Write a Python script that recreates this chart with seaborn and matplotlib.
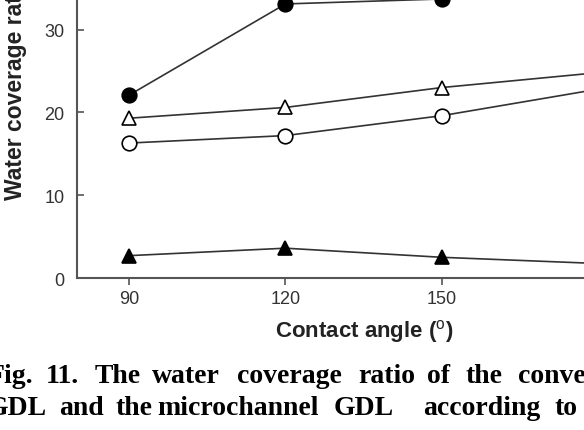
import matplotlib
matplotlib.use('Agg')
import matplotlib.pyplot as plt
import seaborn as sns
import pandas as pd

# Data
CONTACT_ANGLES = [90, 120, 150, 180]
FILLED_CIRCLE = [22.1, 33.1, 33.7, 35.0]
OPEN_TRIANGLE = [19.3, 20.6, 23.0, 24.8]
OPEN_CIRCLE = [16.3, 17.2, 19.6, 22.8]
FILLED_TRIANGLE = [2.7, 3.6, 2.5, 1.75]

X_TICKS = [90, 120, 150, 180]
Y_TICKS = [0, 10, 20, 30, 40]

# caption words with (x pixel, anchor) - justified text in the source
CAPTION_LINE1 = [('Fig.', 33, 'right'), ('11.', 62.5, 'center'), ('The', 117.5, 'center'),
                 ('water', 186, 'center'), ('coverage', 289.5, 'center'),
                 ('ratio', 386.5, 'center'), ('of', 438.5, 'center'), ('the', 484, 'center'),
                 ('conventional', 518, 'left')]
CAPTION_LINE2 = [('GDL', 47, 'right'), ('and', 81.5, 'center'), ('the', 134, 'center'),
                 ('microchannel', 238, 'center'), ('GDL', 364, 'center'),
                 ('according', 482, 'center'), ('to', 566, 'center')]

W, H = 584, 431


def px(x, y):
    """Pixel (from top-left) to figure fraction."""
    return x / W, (H - y) / H


def build_frame():
    rows = []
    series = [('filled_circle', FILLED_CIRCLE), ('open_triangle', OPEN_TRIANGLE),
              ('open_circle', OPEN_CIRCLE), ('filled_triangle', FILLED_TRIANGLE)]
    for name, vals in series:
        for a, v in zip(CONTACT_ANGLES, vals):
            rows.append({'angle': a, 'ratio': v, 'series': name})
    return pd.DataFrame(rows)


def main():
    sns.set_theme(style='white')
    plt.rcParams['font.family'] = ['Liberation Sans', 'DejaVu Sans']
    plt.rcParams['mathtext.fontset'] = 'custom'
    plt.rcParams['mathtext.rm'] = 'Liberation Sans'

    df = build_frame()

    fig = plt.figure(figsize=(W / 100, H / 100), dpi=100)
    x0 = 77.2
    ax = fig.add_axes([x0 / W, (H - 279) / H, (650 - x0) / W, 40 * 8.28 / H])

    styles = {
        'filled_circle': dict(marker='o', markerfacecolor='black'),
        'open_triangle': dict(marker='^', markerfacecolor='white'),
        'open_circle': dict(marker='o', markerfacecolor='white'),
        'filled_triangle': dict(marker='^', markerfacecolor='black'),
    }
    for name, st in styles.items():
        sub = df[df['series'] == name]
        sns.lineplot(data=sub, x='angle', y='ratio', ax=ax, color='#333333',
                     linewidth=1.2, markersize=10.5, markeredgecolor='black',
                     markeredgewidth=1.2, **st)

    ax.set_xlim(80, 190)
    ax.set_ylim(0, 40)
    ax.set_xticks(X_TICKS)
    ax.set_yticks(Y_TICKS)
    ax.set_xlabel('')
    ax.set_ylabel('')
    for s in ['top', 'right']:
        ax.spines[s].set_visible(False)
    for s in ['left', 'bottom']:
        ax.spines[s].set_color('#555555')
        ax.spines[s].set_linewidth(1.5)
    ax.tick_params(axis='x', direction='out', length=5, width=1.2, color='#555555',
                   labelsize=13, labelcolor='#333333', pad=4, bottom=True)
    ax.tick_params(axis='y', direction='in', length=5, width=1.2, color='#555555',
                   labelsize=13, labelcolor='#333333', pad=9, left=True)

    # axis titles
    fig.text(*px(16, 200), 'Water coverage ratio (%)', rotation=90, ha='center', va='bottom',
             fontsize=16.5, fontweight='bold', color='#222222')
    fig.text(*px(364, 337), r'Contact angle ($^{\mathrm{o}}$)', ha='center', va='baseline',
             fontsize=16, fontweight='bold', color='#222222')

    # caption, placed word by word
    for words, base in [(CAPTION_LINE1, 383), (CAPTION_LINE2, 415)]:
        for word, xw, anchor in words:
            fig.text(*px(xw, base), word, ha=anchor, va='baseline', fontsize=20,
                     fontweight='bold', family=['Liberation Serif', 'DejaVu Serif'],
                     color='black')

    fig.savefig('out.png', dpi=100)
    plt.close(fig)


if __name__ == '__main__':
    main()
